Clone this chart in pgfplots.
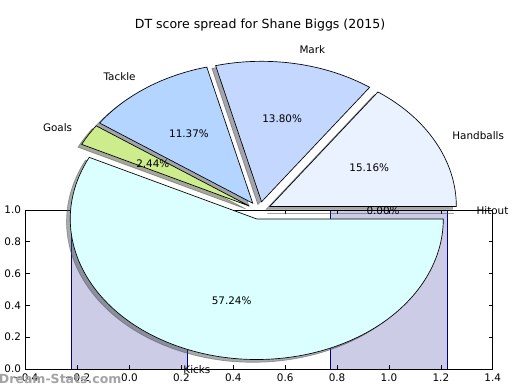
\documentclass[border=0pt]{standalone}
\usepackage{pgfplots}
\pgfplotsset{compat=1.18}
\usepackage{fontspec}
\setmainfont{DejaVu Sans}
\definecolor{cHand}{RGB}{234,242,255}
\definecolor{cMark}{RGB}{195,215,255}
\definecolor{cTack}{RGB}{180,213,255}
\definecolor{cGoal}{RGB}{205,236,140}
\definecolor{cKick}{RGB}{219,255,255}
\definecolor{cHit}{RGB}{240,240,240}
\definecolor{barfill}{RGB}{204,204,230}
\definecolor{baredge}{RGB}{0,0,140}
% #1 cumulative start (%), #2 cumulative end (%), #3 explode, #4 colour
\newcommand\pieshadow[4]{%
  \filldraw[fill=#4!30!black, draw=#4!30!black, line width=0.5pt, opacity=0.47]
   (axis cs:{#3*cos(1.8*(#1+#2))-0.02},{#3*sin(1.8*(#1+#2))-0.02})
   -- (axis cs:{#3*cos(1.8*(#1+#2))-0.02+cos(3.6*#1)},{#3*sin(1.8*(#1+#2))-0.02+sin(3.6*#1)})
   arc[start angle={3.6*#1}, end angle={3.6*#2}, x radius=139.875pt, y radius=105.375pt] -- cycle;}
\newcommand\piewedge[4]{%
  \filldraw[fill=#4, draw=black, line width=0.5pt]
   (axis cs:{#3*cos(1.8*(#1+#2))},{#3*sin(1.8*(#1+#2))})
   -- (axis cs:{#3*cos(1.8*(#1+#2))+cos(3.6*#1)},{#3*sin(1.8*(#1+#2))+sin(3.6*#1)})
   arc[start angle={3.6*#1}, end angle={3.6*#2}, x radius=139.875pt, y radius=105.375pt] -- cycle;}
% #1 start, #2 end, #3 explode, #4 anchor, #5 label, #6 percent
\newcommand\pielabel[6]{%
  \node[anchor=#4, inner sep=0pt] at (axis cs:{(#3+1.1)*cos(1.8*(#1+#2))},{(#3+1.1)*sin(1.8*(#1+#2))}) {#5};
  \node[inner sep=0pt] at (axis cs:{(#3+0.6)*cos(1.8*(#1+#2))},{(#3+0.6)*sin(1.8*(#1+#2))}) {#6};}
\begin{document}
\begin{tikzpicture}[font=\fontsize{7.8}{9}\selectfont]
\path[use as bounding box] (0,0) rectangle (390pt,292.5pt);
\begin{axis}[
  at={(19.3pt,15.75pt)}, anchor=south west,
  scale only axis, width=350.25pt, height=119.25pt,
  xmin=-0.4, xmax=1.4, ymin=0, ymax=1,
  xtick={-0.4,-0.2,0,0.2,0.4,0.6,0.8,1.0,1.2,1.4},
  xticklabels={−0.4,−0.2,0.0,0.2,0.4,0.6,0.8,1.0,1.2,1.4},
  ytick={0,0.2,0.4,0.6,0.8,1.0},
  yticklabels={0.0,0.2,0.4,0.6,0.8,1.0},
  tick align=inside, major tick length=3pt,
  tick style={black, line width=0.5pt},
  axis line style={line width=0.6pt},
  axis on top,
  tick label style={font=\fontsize{7.8}{9}\selectfont},
]
\addplot[ybar, bar width=0.45, bar shift=0pt, fill=barfill, draw=baredge, line width=0.7pt]
  coordinates {(0,1) (1,1)};
\end{axis}
\begin{axis}[
  at={(194.55pt,134.625pt)}, anchor=center,
  scale only axis, width=279.75pt, height=210.75pt,
  xmin=-1, xmax=1, ymin=-1, ymax=1,
  hide axis, clip=false,
]
% cumulative shares: Handballs 15.16, Mark 13.80, Tackle 11.37, Goals 2.44, Kicks 57.24, Hitout 0.00
\pieshadow{0}{15.16}{0.063}{cHand}
\pieshadow{15.16}{28.96}{0.063}{cMark}
\pieshadow{28.96}{40.33}{0.063}{cTack}
\pieshadow{40.33}{42.77}{0.063}{cGoal}
\pieshadow{42.77}{100}{0.062}{cKick}
\pieshadow{100}{100}{0.063}{cHit}
\piewedge{0}{15.16}{0.063}{cHand}
\piewedge{15.16}{28.96}{0.063}{cMark}
\piewedge{28.96}{40.33}{0.063}{cTack}
\piewedge{40.33}{42.77}{0.063}{cGoal}
\piewedge{42.77}{100}{0.062}{cKick}
\piewedge{100}{100}{0.063}{cHit}
\pielabel{0}{15.16}{0.063}{west}{Handballs}{15.16\%}
\pielabel{15.16}{28.96}{0.063}{west}{Mark}{13.80\%}
\pielabel{28.96}{40.33}{0.063}{east}{Tackle}{11.37\%}
\pielabel{40.33}{42.77}{0.063}{east}{Goals}{2.44\%}
\pielabel{42.77}{100}{0.062}{east}{Kicks}{57.24\%}
\pielabel{100}{100}{0.063}{west}{Hitout}{0.00\%}
\end{axis}
\node[font=\fontsize{9.4}{11}\selectfont] at (195pt,273.75pt) {DT score spread for Shane Biggs (2015)};
\node[anchor=west, inner sep=0pt, text=black!36, font=\fontsize{9.4}{11}\selectfont\bfseries] at (-1pt,8.25pt) {Dream-Stats.com};
\end{tikzpicture}
\end{document}
